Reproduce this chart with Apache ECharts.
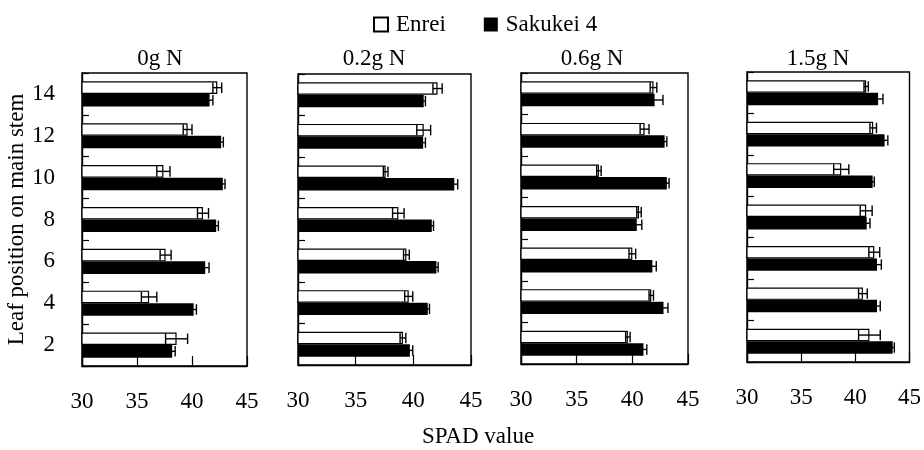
<!DOCTYPE html>
<html>
<head>
<meta charset="utf-8">
<script src="https://cdn.jsdelivr.net/npm/echarts@6/dist/echarts.min.js"></script>
<style>
  html, body { margin: 0; padding: 0; background: #fff; }
  #chart { width: 924px; height: 450px; }
</style>
</head>
<body>
<div id="chart"></div>
<script>
// Leaf positions on the main stem (bottom to top)
const categories = ['2', '4', '6', '8', '10', '12', '14'];
// Nitrogen treatments, one panel each
const panelTitles = ['0g N', '0.2g N', '0.6g N', '1.5g N'];
// SPAD axis ticks
const xTicks = [30, 35, 40, 45];
const seriesNames = ['Enrei', 'Sakukei 4'];

// SPAD values, leaf 2 → 14
const enrei0 = [38.6, 36.1, 37.6, 41.0, 37.4, 39.6, 42.3];
const enrei0Err = [1.0, 0.7, 0.5, 0.5, 0.6, 0.4, 0.4];
const sakukei0 = [38.2, 40.15, 41.2, 42.2, 42.8, 42.65, 41.6];
const sakukei0Err = [0.27, 0.25, 0.35, 0.2, 0.2, 0.2, 0.3];

const enrei02 = [39.1, 39.6, 39.4, 38.7, 37.6, 40.9, 42.1];
const enrei02Err = [0.25, 0.35, 0.25, 0.5, 0.2, 0.6, 0.4];
const sakukei02 = [39.7, 41.25, 42.0, 41.6, 43.55, 40.85, 40.9];
const sakukei02Err = [0.25, 0.15, 0.15, 0.15, 0.3, 0.2, 0.15];

const enrei06 = [39.6, 41.7, 40.0, 40.6, 37.0, 41.1, 41.9];
const enrei06Err = [0.2, 0.2, 0.3, 0.2, 0.2, 0.4, 0.3];
const sakukei06 = [41.0, 42.8, 41.8, 40.4, 43.1, 42.9, 42.0];
const sakukei06Err = [0.3, 0.4, 0.35, 0.45, 0.2, 0.2, 0.75];

const enrei15 = [41.3, 40.7, 41.75, 41.0, 38.7, 41.65, 41.0];
const enrei15Err = [1.0, 0.4, 0.5, 0.55, 0.7, 0.3, 0.2];
const sakukei15 = [43.45, 42.0, 42.0, 41.05, 41.6, 42.7, 42.1];
const sakukei15Err = [0.15, 0.3, 0.4, 0.3, 0.15, 0.3, 0.45];

const panels = [
  { enrei: enrei0, enreiErr: enrei0Err, sakukei: sakukei0, sakukeiErr: sakukei0Err },
  { enrei: enrei02, enreiErr: enrei02Err, sakukei: sakukei02, sakukeiErr: sakukei02Err },
  { enrei: enrei06, enreiErr: enrei06Err, sakukei: sakukei06, sakukeiErr: sakukei06Err },
  { enrei: enrei15, enreiErr: enrei15Err, sakukei: sakukei15, sakukeiErr: sakukei15Err }
];

const FONT = '"Liberation Serif", "Times New Roman", serif';
const FS = 23;
const CAT_GAP = 0.4; // share of each band left empty

// plot boxes
const boxes = [
  { left: 82, top: 73, width: 165, height: 293 },
  { left: 298, top: 74, width: 173, height: 291 },
  { left: 521, top: 73, width: 167, height: 291 },
  { left: 747, top: 72, width: 164, height: 290 }
];
const titleX = [160, 374, 592, 818];

// error bar drawn at the centre of one of the two bars in a band (side -1 = upper, +1 = lower)
function errorRenderer(side) {
  return function (params, api) {
    const v = api.value(0), cat = api.value(1), e = api.value(2);
    const band = api.size([0, 1])[1];
    const bw = band * (1 - CAT_GAP) / 2;
    const lo = api.coord([v - e, cat]);
    const hi = api.coord([v + e, cat]);
    const y = lo[1] + side * bw / 2;
    const h = bw * 0.42;
    const style = { stroke: '#000', lineWidth: 1.4 };
    return {
      type: 'group',
      children: [
        { type: 'line', shape: { x1: lo[0], y1: y, x2: hi[0], y2: y }, style },
        { type: 'line', shape: { x1: lo[0], y1: y - h, x2: lo[0], y2: y + h }, style },
        { type: 'line', shape: { x1: hi[0], y1: y - h, x2: hi[0], y2: y + h }, style }
      ]
    };
  };
}

const grid = [], xAxis = [], yAxis = [], series = [], graphic = [];

boxes.forEach((b, i) => {
  grid.push(Object.assign({ show: true, borderColor: '#000', borderWidth: 1.4, backgroundColor: 'transparent' }, b));
  xAxis.push({
    type: 'value', gridIndex: i,
    min: xTicks[0], max: xTicks[xTicks.length - 1], interval: xTicks[1] - xTicks[0],
    axisLine: { show: true, lineStyle: { color: '#000', width: 1.4 } },
    axisTick: { show: true, inside: true, length: 10, lineStyle: { color: '#000', width: 1.2 } },
    axisLabel: { show: true, margin: 24, color: '#000', fontFamily: FONT, fontSize: FS, showMinLabel: true, showMaxLabel: true },
    splitLine: { show: false }
  });
  yAxis.push(Object.assign({
    type: 'category', gridIndex: i, data: categories,
    axisLine: { show: true, lineStyle: { color: '#000', width: 1.4 } },
    axisTick: { show: true, inside: true, length: 7, lineStyle: { color: '#000', width: 1.2 } },
    axisLabel: { show: i === 0, margin: 27, color: '#000', fontFamily: FONT, fontSize: FS },
    splitLine: { show: false }
  }, i === 0 ? {
    name: 'Leaf position on main stem', nameLocation: 'middle', nameRotate: 90, nameGap: 52,
    nameTextStyle: { color: '#000', fontFamily: FONT, fontSize: FS }
  } : {}));

  const p = panels[i];
  series.push({
    type: 'bar', name: seriesNames[0], xAxisIndex: i, yAxisIndex: i,
    data: p.enrei, barGap: '0%', barCategoryGap: (CAT_GAP * 100) + '%',
    itemStyle: { color: '#fff', borderColor: '#000', borderWidth: 1.2 },
    silent: true, animation: false
  });
  series.push({
    type: 'bar', name: seriesNames[1], xAxisIndex: i, yAxisIndex: i,
    data: p.sakukei, barGap: '0%', barCategoryGap: (CAT_GAP * 100) + '%',
    itemStyle: { color: '#000' },
    silent: true, animation: false
  });
  series.push({
    type: 'custom', xAxisIndex: i, yAxisIndex: i, z: 5,
    renderItem: errorRenderer(-1),
    encode: { x: 0, y: 1 },
    data: p.enrei.map((v, k) => [v, k, p.enreiErr[k]]),
    silent: true, animation: false
  });
  series.push({
    type: 'custom', xAxisIndex: i, yAxisIndex: i, z: 5,
    renderItem: errorRenderer(1),
    encode: { x: 0, y: 1 },
    data: p.sakukei.map((v, k) => [v, k, p.sakukeiErr[k]]),
    silent: true, animation: false
  });

  graphic.push({
    type: 'text', x: titleX[i], y: 59,
    style: { text: panelTitles[i], fill: '#000', font: FS + 'px ' + FONT, textAlign: 'center', textVerticalAlign: 'middle' }
  });
});

graphic.push({
  type: 'text', x: 478, y: 437,
  style: { text: 'SPAD value', fill: '#000', font: FS + 'px ' + FONT, textAlign: 'center', textVerticalAlign: 'middle' }
});

const chart = echarts.init(document.getElementById('chart'), null, { renderer: 'canvas' });
chart.setOption({
  backgroundColor: '#fff',
  animation: false,
  legend: {
    data: seriesNames, left: 368, top: 8, icon: 'rect',
    itemWidth: 14, itemHeight: 14, itemGap: 38, selectedMode: false,
    textStyle: { color: '#000', fontFamily: FONT, fontSize: FS, padding: [0, 0, 0, 3] }
  },
  grid, xAxis, yAxis, series, graphic
});
</script>
</body>
</html>
